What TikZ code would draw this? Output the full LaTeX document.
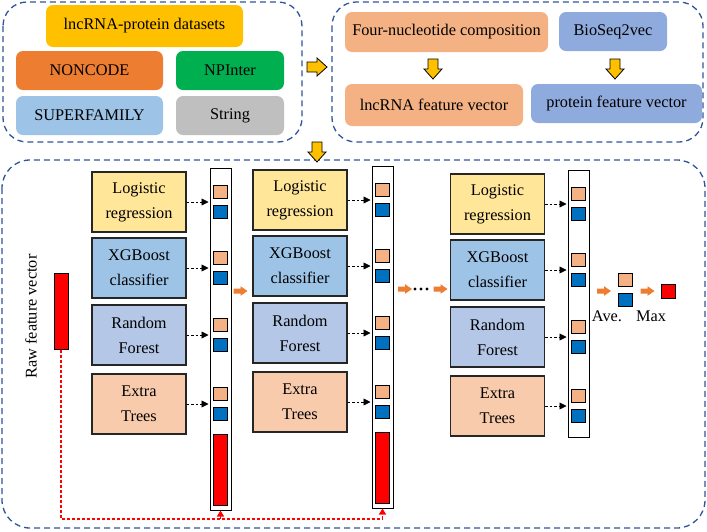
\documentclass[tikz,border=0pt]{standalone}
\usepackage{fontspec}
\setmainfont{Liberation Serif}
\usetikzlibrary{arrows.meta}

\definecolor{frameblue}{HTML}{2F5597}
\definecolor{dsyellow}{HTML}{FFC000}
\definecolor{ncorange}{HTML}{ED7D31}
\definecolor{npgreen}{HTML}{00B050}
\definecolor{sfblue}{HTML}{9DC3E6}
\definecolor{strgray}{HTML}{BFBFBF}
\definecolor{lncsalmon}{HTML}{F4B183}
\definecolor{protblue}{HTML}{8FAADC}
\definecolor{lrfill}{HTML}{FFE699}
\definecolor{xgbfill}{HTML}{9DC3E6}
\definecolor{rffill}{HTML}{B4C7E7}
\definecolor{etfill}{HTML}{F8CBAD}
\definecolor{sqblue}{HTML}{0070C0}
\definecolor{boxline}{HTML}{262626}

\tikzset{
  frame/.style={draw=frameblue,line width=1.3pt,dash pattern=on 6pt off 4pt,rounded corners=24pt},
  srcbox/.style={rounded corners=7pt,inner sep=0pt,font=\fontsize{16.3}{19}\selectfont},
  model/.style={draw=boxline,line width=1.2pt,inner sep=0pt,minimum width=94pt,minimum height=60pt,
    align=center,font=\fontsize{16.3}{25}\selectfont},
  vecbar/.style={draw=black,line width=1pt,fill=white,inner sep=0pt,minimum width=21pt},
  sq/.style={draw=black,line width=0.8pt,inner sep=0pt,minimum width=14pt,minimum height=13pt},
  yarr/.pic={\draw[black,fill=dsyellow,line width=0.8pt]
    (-10,-5) -- (0,-5) -- (0,-9) -- (10,0) -- (0,9) -- (0,5) -- (-10,5) -- cycle;},
  oarr/.pic={\fill[ncorange]
    (-7,-2.5) -- (0,-2.5) -- (0,-4.8) -- (7,0) -- (0,4.8) -- (0,2.5) -- (-7,2.5) -- cycle;},
  feed/.style={line width=0.8pt,dash pattern=on 2.5pt off 2pt,-{Triangle[length=7pt,width=7pt]},shorten >=1pt},
  rawlink/.style={draw=red,line width=1.1pt,dash pattern=on 3pt off 2pt}
}

\begin{document}
\begin{tikzpicture}[x=1pt,y=-1pt]
  \useasboundingbox (0,0) rectangle (707,531);

  \draw[frame] (3,2) rectangle (302,142);
  \draw[frame] (332,2) rectangle (703,142);
  \draw[frame,rounded corners=28pt] (2,160) rectangle (705,528);

  \node[srcbox,fill=dsyellow,minimum width=197pt,minimum height=42pt] (datasets) at (144.5,26) {lncRNA-protein datasets};
  \node[srcbox,fill=ncorange,minimum width=147pt,minimum height=39pt] (noncode) at (89.5,70.5) {NONCODE};
  \node[srcbox,fill=npgreen,minimum width=108pt,minimum height=39pt] (npinter) at (230,70.5) {NPInter};
  \node[srcbox,fill=sfblue,minimum width=147pt,minimum height=39pt] (superfam) at (89.5,115.5) {SUPERFAMILY};
  \node[srcbox,fill=strgray,minimum width=108pt,minimum height=39pt] (stringdb) at (230,115.5) {String};

  \node[srcbox,fill=lncsalmon,minimum width=203pt,minimum height=40pt] (fournuc) at (446.5,32) {Four-nucleotide composition};
  \node[srcbox,fill=protblue,minimum width=108pt,minimum height=39pt] (bioseq) at (613,31.5) {BioSeq2vec};
  \node[srcbox,fill=lncsalmon,minimum width=178pt,minimum height=42pt] (lncvec) at (434,105) {lncRNA feature vector};
  \node[srcbox,fill=protblue,minimum width=171pt,minimum height=39pt] (protvec) at (616.5,103.5) {protein feature vector};

  \pic (toright) at (317,67) {yarr};
  \pic[rotate=-90] (lncdown) at (433,69) {yarr};
  \pic[rotate=-90] (protdown) at (615,69) {yarr};
  \pic[rotate=-90] (todown) at (317,152) {yarr};

  \node[font=\fontsize{16.3}{19}\selectfont,rotate=90] (rawlabel) at (31,316.5) {Raw feature vector};
  \node[draw=black,line width=1pt,fill=red,inner sep=0pt,minimum width=14pt,minimum height=76pt] (raw) at (61,311) {};

  \node[vecbar,minimum height=342pt] (vec1) at (220.5,339) {};
  \node[vecbar,minimum height=342pt] (vec2) at (382.5,337) {};
  \node[vecbar,minimum height=267pt] (vec3) at (578.5,303.5) {};
  \node[draw=black,line width=0.8pt,fill=red,inner sep=0pt,minimum width=14pt,minimum height=71pt,anchor=south] (red1) at ([yshift=5pt]vec1.south) {};
  \node[draw=black,line width=0.8pt,fill=red,inner sep=0pt,minimum width=14pt,minimum height=71pt,anchor=south] (red2) at ([yshift=5pt]vec2.south) {};

  \foreach \c/\bx/\dy in {1/139/0,2/300/-2,3/497.5/2} {
    \foreach \r/\ry/\fc/\txt in {lr/202/lrfill/{Logistic\\regression},xgb/268/xgbfill/{XGBoost\\classifier},
        rf/335/rffill/{Random\\Forest},et/404/etfill/{Extra\\Trees}} {
      \node[model,fill=\fc] (\r\c) at (\bx,\ry+\dy) {\txt};
      \node[sq,fill=lncsalmon] (\r\c o) at (vec\c.center |- 0,\ry+\dy-10) {};
      \node[sq,fill=sqblue] (\r\c b) at (vec\c.center |- 0,\ry+\dy+10) {};
      \draw[feed] (\r\c.east) -- (\r\c.east -| vec\c.west);
    }
  }

  \pic (step1) at (240.5,291) {oarr};
  \pic (step2) at (405,289) {oarr};
  \foreach \d in {415,421,427}
    \fill (\d,289) circle (1.7pt);
  \pic (step3) at (440.5,289) {oarr};
  \pic (step4) at (604,291) {oarr};
  \node[sq,fill=lncsalmon] (aveo) at (625,279.5) {};
  \node[sq,fill=sqblue] (aveb) at (625,300) {};
  \pic (step5) at (647.5,291) {oarr};
  \node[sq,fill=red,minimum height=14pt] (maxsq) at (668,291) {};
  \node[font=\fontsize{16.3}{19}\selectfont] (avelabel) at (607,316) {Ave.};
  \node[font=\fontsize{16.3}{19}\selectfont] (maxlabel) at (651,316) {Max};

  \coordinate (bend) at (61,519);
  \draw[rawlink] (raw.south) -- (bend) -- (bend -| vec2.south);
  \draw[rawlink,-{Triangle[length=6pt,width=7pt]}] (bend -| vec1.south) -- (vec1.south);
  \draw[rawlink,-{Triangle[length=6pt,width=7pt]}] (bend -| vec2.south) -- (vec2.south);
\end{tikzpicture}
\end{document}
